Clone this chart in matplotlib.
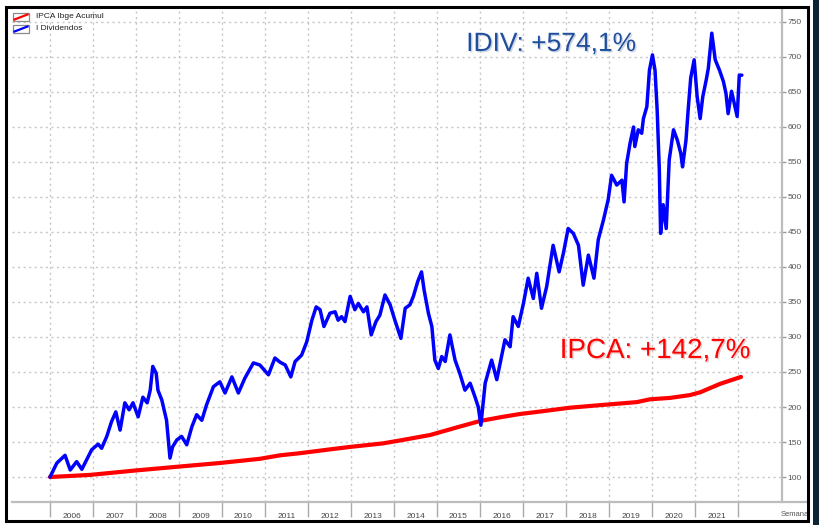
import matplotlib
matplotlib.use("Agg")
import matplotlib.pyplot as plt
from matplotlib.patches import Rectangle
from matplotlib.lines import Line2D
import matplotlib.patheffects as pe

# ---------------- data ----------------
ipca_anos = [2006.00, 2006.93, 2007.93, 2009.02, 2009.95, 2010.88, 2011.35, 2011.81,
             2012.58, 2012.98, 2013.74, 2014.21, 2014.84, 2015.47, 2016.00, 2016.53,
             2016.93, 2017.33, 2018.09, 2018.86, 2019.65, 2019.95, 2020.42, 2020.88,
             2021.12, 2021.58, 2022.07]
ipca = [100, 103, 109, 115, 120, 126, 131, 134,
        140, 143, 148, 153, 160, 171, 180, 186,
        190, 193, 199, 203, 207, 211, 213, 217,
        221, 233, 243]

idiv_anos = [2006.00, 2006.16, 2006.35, 2006.47, 2006.62, 2006.74, 2006.97, 2007.12,
             2007.20, 2007.32, 2007.43, 2007.53, 2007.63, 2007.74, 2007.84, 2007.93,
             2008.05, 2008.16, 2008.26, 2008.33, 2008.39, 2008.47, 2008.51, 2008.60,
             2008.71, 2008.79, 2008.85, 2008.95, 2009.06, 2009.18, 2009.30, 2009.41,
             2009.53, 2009.64, 2009.80, 2009.95, 2010.07, 2010.23, 2010.38, 2010.53,
             2010.73, 2010.88, 2011.08, 2011.23, 2011.35, 2011.47, 2011.60, 2011.70,
             2011.85, 2011.97, 2012.09, 2012.19, 2012.28, 2012.37, 2012.51, 2012.63,
             2012.70, 2012.78, 2012.86, 2012.98, 2013.09, 2013.17, 2013.29, 2013.37,
             2013.47, 2013.58, 2013.67, 2013.79, 2013.91, 2014.02, 2014.16, 2014.26,
             2014.37, 2014.45, 2014.55, 2014.64, 2014.70, 2014.80, 2014.88, 2014.95,
             2015.03, 2015.11, 2015.19, 2015.30, 2015.42, 2015.53, 2015.65, 2015.77,
             2015.88, 2015.96, 2016.02, 2016.12, 2016.27, 2016.39, 2016.47, 2016.58,
             2016.70, 2016.77, 2016.89, 2017.01, 2017.12, 2017.24, 2017.32, 2017.43,
             2017.55, 2017.70, 2017.84, 2017.94, 2018.05, 2018.17, 2018.29, 2018.40,
             2018.52, 2018.65, 2018.75, 2018.87, 2018.98, 2019.06, 2019.18, 2019.30,
             2019.35, 2019.41, 2019.49, 2019.57, 2019.60, 2019.68, 2019.76, 2019.80,
             2019.88, 2019.94, 2020.01, 2020.07, 2020.12, 2020.17, 2020.20, 2020.26,
             2020.33, 2020.40, 2020.50, 2020.59, 2020.67, 2020.71, 2020.79, 2020.84,
             2020.90, 2020.98, 2021.05, 2021.12, 2021.18, 2021.26, 2021.31, 2021.39,
             2021.47, 2021.57, 2021.66, 2021.72, 2021.77, 2021.85, 2021.93, 2021.98,
             2022.03, 2022.09]
idiv = [100, 120, 131, 110, 122, 111, 139, 147,
        141, 158, 179, 193, 167, 206, 196, 206,
        186, 214, 206, 224, 258, 248, 224, 210,
        181, 127, 143, 153, 158, 146, 172, 189,
        181, 203, 229, 236, 220, 243, 220, 241,
        263, 260, 246, 270, 264, 260, 243, 265,
        274, 293, 324, 343, 339, 315, 334, 336,
        324, 329, 322, 358, 339, 348, 336, 343,
        303, 322, 331, 360, 346, 324, 298, 341,
        346, 358, 379, 393, 367, 334, 315, 267,
        255, 272, 265, 303, 267, 248, 224, 234,
        215, 200, 174, 234, 267, 239, 263, 296,
        286, 329, 315, 348, 384, 355, 391, 341,
        372, 431, 393, 420, 455, 448, 431, 374,
        417, 384, 439, 467, 496, 531, 517, 524,
        493, 548, 577, 600, 572, 596, 591, 612,
        629, 681, 703, 681, 624, 539, 448, 489,
        455, 553, 596, 581, 562, 543, 581, 624,
        670, 696, 643, 612, 643, 667, 684, 734,
        696, 681, 665, 648, 619, 651, 629, 615,
        674, 674]

anos_sep = list(range(2006, 2023))
anos_rotulos = [str(a) for a in range(2006, 2022)]
y_ticks = list(range(100, 751, 50))

serie_ipca = "IPCA Ibge Acumul"
serie_idiv = "I Dividendos"
txt_idiv = "IDIV: +574,1%"
txt_ipca = "IPCA: +142,7%"

# ---------------- figure ----------------
plt.rcParams['font.family'] = ['Liberation Sans', 'DejaVu Sans']
W, H = 820, 525
fig = plt.figure(figsize=(W / 100, H / 100), dpi=100)
fig.patch.set_facecolor('white')

def fx(px):
    return px / W

def fy(py):
    return 1 - py / H

# dark strip on the right and black frame
fig.add_artist(Rectangle((fx(813), 0), fx(820) - fx(813), 1, transform=fig.transFigure,
                         facecolor='#0d2435', edgecolor='none', zorder=0))
fig.add_artist(Rectangle((fx(6), fy(521)), fx(808) - fx(6), fy(7) - fy(521),
                         transform=fig.transFigure, facecolor='none',
                         edgecolor='black', lw=2.2, zorder=10))

ax = fig.add_axes([fx(12), fy(502), fx(782) - fx(12), fy(10) - fy(502)])
ax.set_facecolor('white')
ax.set_xlim(2005.116, 2023.023)
ax.set_ylim(64.3, 767.1)

for s in ['left', 'top']:
    ax.spines[s].set_visible(False)
ax.spines['right'].set_color('#bdbdbd')
ax.spines['right'].set_linewidth(1.6)
ax.spines['bottom'].set_visible(False)

# x-axis line extended to the frame
fig.add_artist(Line2D([fx(12), fx(807)], [fy(502), fy(502)], transform=fig.transFigure,
                      color='#bdbdbd', lw=1.6, zorder=5))

ax.yaxis.tick_right()
ax.set_yticks(y_ticks)
ax.set_yticklabels([str(v) for v in y_ticks])
ax.tick_params(axis='y', which='major', direction='out', length=3, width=1,
               color='#9a9a9a', labelsize=6, labelcolor='#555555', pad=1)

ax.set_xticks(anos_sep)
ax.set_xticklabels([])
ax.set_xticks([a + 0.5 for a in range(2006, 2022)], minor=True)
ax.set_xticklabels(anos_rotulos, minor=True)
ax.tick_params(axis='x', which='major', direction='out', length=11, width=1,
               color='#aaaaaa', pad=0)
ax.tick_params(axis='x', which='minor', length=0, labelsize=6,
               labelcolor='#444444', pad=8)

ax.grid(True, which='major', linestyle=(0, (1.5, 2.5)), color='#c6c6c6', lw=1.0)
ax.set_axisbelow(True)

ax.plot(ipca_anos, ipca, color='#ff0000', lw=3.0, zorder=3, solid_joinstyle='round',
        solid_capstyle='round')
ax.plot(idiv_anos, idiv, color='#0000ff', lw=2.5, zorder=4, solid_joinstyle='round',
        solid_capstyle='round')

ax.text(0.700, 0.931, txt_idiv, transform=ax.transAxes, ha='center', va='center',
        fontsize=19, color='#1f4e9c',
        path_effects=[pe.withSimplePatchShadow(offset=(1, -1), shadow_rgbFace='#8899bb', alpha=0.4)])
ax.text(0.835, 0.307, txt_ipca, transform=ax.transAxes, ha='center', va='center',
        fontsize=20, color='#ff0000',
        path_effects=[pe.withSimplePatchShadow(offset=(1, -1), shadow_rgbFace='#cc8888', alpha=0.4)])

fig.text(fx(795), fy(514), "Semana", fontsize=5.5, color='#555555', ha='center', va='center')

# legend
for (y0, col, lab) in [(13, '#ff0000', serie_ipca), (25, '#0000ff', serie_idiv)]:
    fig.add_artist(Rectangle((fx(13), fy(y0 + 8)), fx(29) - fx(13), fy(y0) - fy(y0 + 8),
                             transform=fig.transFigure, facecolor='white',
                             edgecolor='#8a8a8a', lw=0.9, zorder=11))
    fig.add_artist(Line2D([fx(14.5), fx(27.5)], [fy(y0 + 6.5), fy(y0 + 1.5)],
                          transform=fig.transFigure, color=col, lw=1.6, zorder=12))
    fig.text(fx(36), fy(y0 + 4), lab, fontsize=6, color='#222222', ha='left', va='center')

fig.savefig("out.png", dpi=100)
